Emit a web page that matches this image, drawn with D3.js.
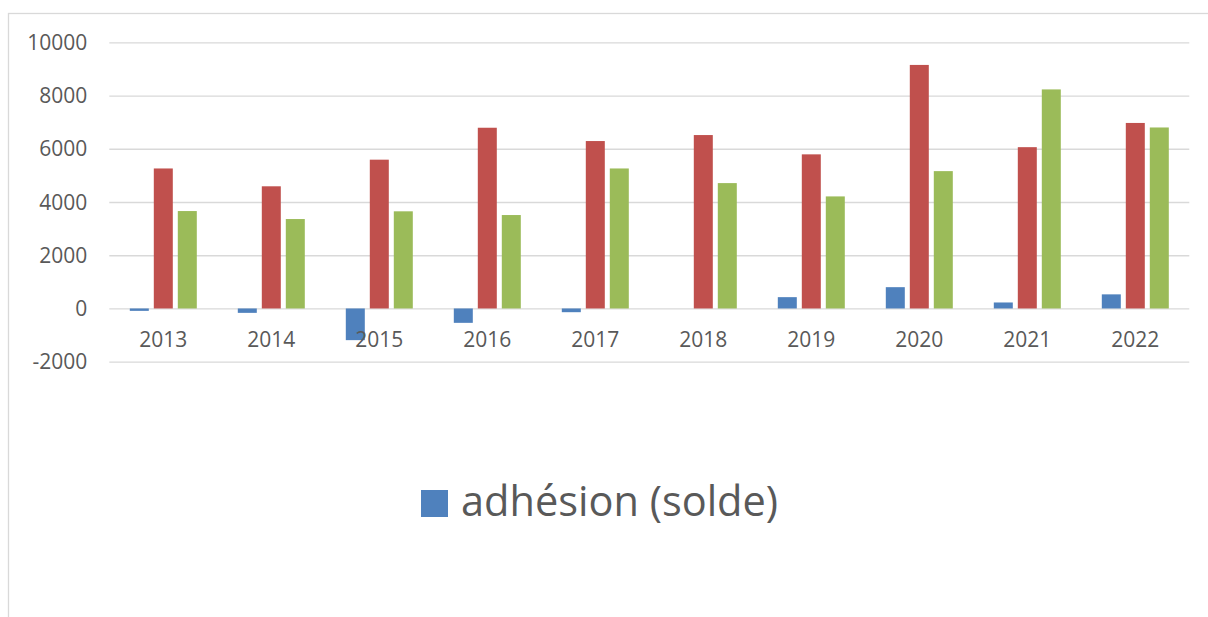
<!DOCTYPE html>
<html>
<head>
<meta charset="utf-8">
<script src="https://cdn.jsdelivr.net/npm/d3@7"></script>
<style>
  body { margin: 0; background: #fff; }
  text { font-family: "Open Sans", sans-serif; fill: #595959; }
</style>
</head>
<body>
<svg id="chart"></svg>
<script>
// size of the page
var svgWidth = 1208;
var svgHeight = 617;

// data
var years = ["2013", "2014", "2015", "2016", "2017", "2018", "2019", "2020", "2021", "2022"];
var seriesNames = ["adhésion (solde)", "série 2", "série 3"];
var adhesionSolde = [-90, -165, -1190, -540, -140, 0, 425, 800, 225, 530];
var serie2 = [5260, 4590, 5590, 6790, 6290, 6515, 5790, 9150, 6060, 6970];
var serie3 = [3660, 3360, 3650, 3510, 5260, 4710, 4210, 5160, 8230, 6800];
var yTicks = [-2000, 0, 2000, 4000, 6000, 8000, 10000];
var colors = ["#4F81BD", "#C0504D", "#9BBB59"];

var allSeries = [adhesionSolde, serie2, serie3];

var svg = d3.select("#chart")
    .attr("width", svgWidth)
    .attr("height", svgHeight);

// chart area frame
svg.append("rect")
    .attr("x", 8.5)
    .attr("y", 13.5)
    .attr("width", 1220)
    .attr("height", 640)
    .attr("fill", "none")
    .attr("stroke", "#D9D9D9")
    .attr("stroke-width", 1.3);

var x0 = d3.scaleBand()
    .domain(years)
    .range([109.3, 1189.3])
    .padding(0);

var x1 = d3.scaleBand()
    .domain([0, 1, 2])
    .range([20.5, 87.5])
    .paddingInner(5 / 24)
    .paddingOuter(0);

var y = d3.scaleLinear()
    .domain([-2000, 10000])
    .range([361.7, 42.3]);

// gridlines + y labels
var yAxis = d3.axisLeft(y)
    .tickValues(yTicks)
    .tickSize(-(x0.range()[1] - x0.range()[0]))
    .tickPadding(22)
    .tickFormat(function (d) { return String(d); });

var gy = svg.append("g")
    .attr("transform", "translate(" + x0.range()[0] + ",0)")
    .call(yAxis);
gy.select(".domain").remove();
gy.selectAll(".tick line")
    .attr("stroke", "#D9D9D9")
    .attr("stroke-width", 1.3);
gy.selectAll(".tick text")
    .attr("font-size", 21)
    .attr("dy", "0.34em")
    .attr("fill", "#595959");

// bars
var groups = svg.append("g")
    .selectAll("g")
    .data(years)
    .enter()
    .append("g")
    .attr("transform", function (d) { return "translate(" + x0(d) + ",0)"; });

groups.selectAll("rect")
    .data(function (d, i) {
        return allSeries.map(function (s, k) { return { k: k, v: s[i] }; });
    })
    .enter()
    .append("rect")
    .attr("x", function (d) { return x1(d.k); })
    .attr("width", x1.bandwidth())
    .attr("y", function (d) { return Math.min(y(d.v), y(0)); })
    .attr("height", function (d) { return Math.abs(y(d.v) - y(0)); })
    .attr("fill", function (d) { return colors[d.k]; });

// year labels
var xAxis = d3.axisBottom(x0).tickSize(0).tickPadding(0);
var gx = svg.append("g")
    .attr("transform", "translate(0,347)")
    .call(xAxis);
gx.select(".domain").remove();
gx.selectAll(".tick text")
    .attr("font-size", 21)
    .attr("dy", 0)
    .attr("y", 0)
    .attr("fill", "#595959");

// legend (only the first series is shown in the reference)
var legend = svg.append("g");
legend.append("rect")
    .attr("x", 421)
    .attr("y", 490)
    .attr("width", 27)
    .attr("height", 27)
    .attr("fill", colors[0]);
legend.append("text")
    .attr("x", 461)
    .attr("y", 516)
    .attr("font-size", 41.5)
    .text(seriesNames[0]);
</script>
</body>
</html>
